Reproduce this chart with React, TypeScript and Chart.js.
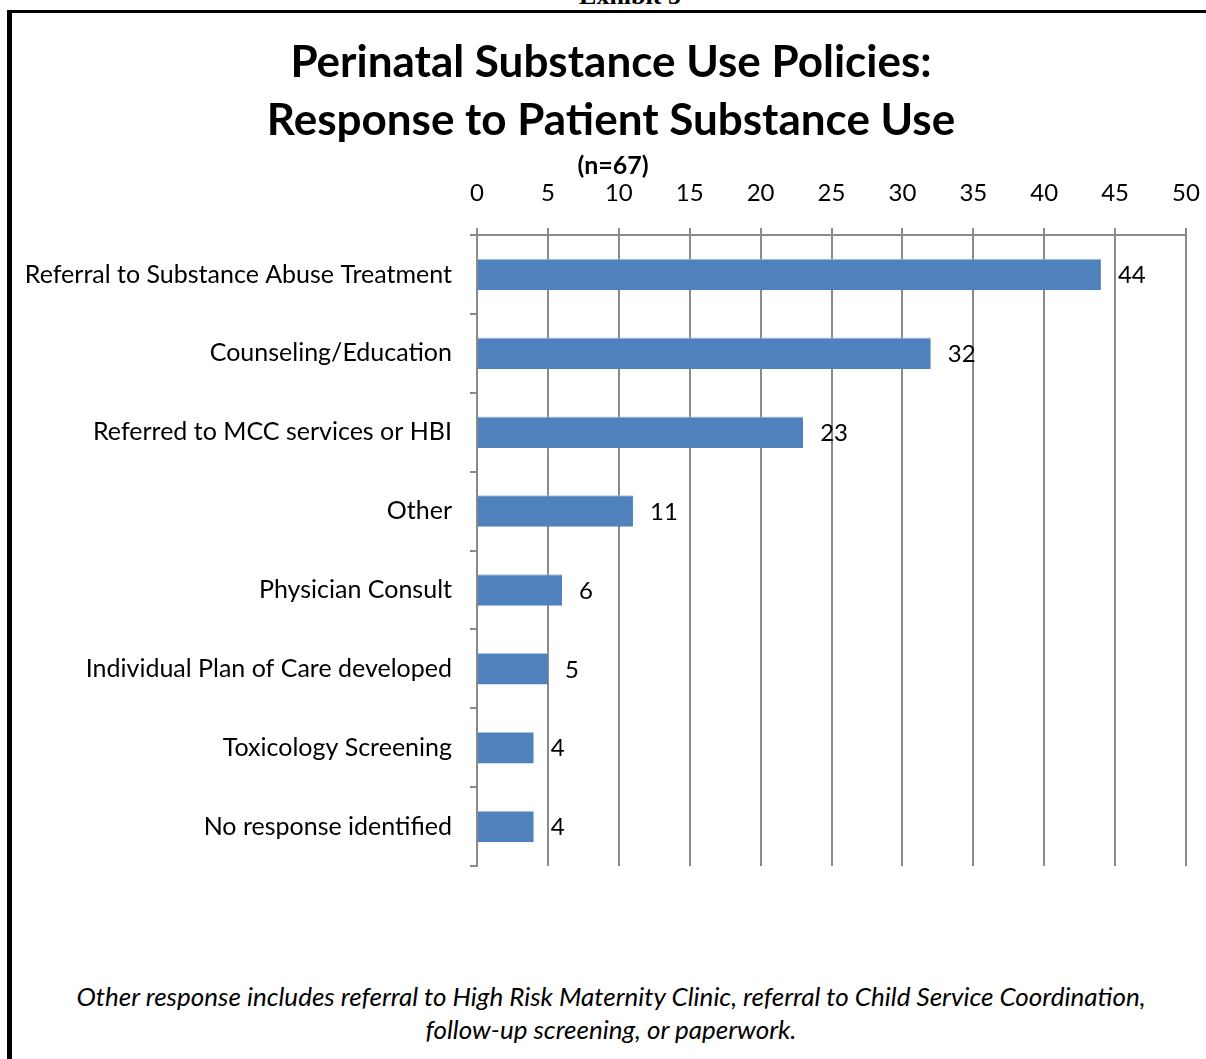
import React, { useEffect, useRef } from "react";
import { Chart, registerables } from "chart.js";

Chart.register(...registerables);

const categories = [
  "Referral to Substance Abuse Treatment",
  "Counseling/Education",
  "Referred to MCC services or HBI",
  "Other",
  "Physician Consult",
  "Individual Plan of Care developed",
  "Toxicology Screening",
  "No response identified",
];
const counts = [44, 32, 23, 11, 6, 5, 4, 4];
const axisMax = 50;
const axisStep = 5;

const titleLines = ["Perinatal Substance Use Policies:", "Response to Patient Substance Use"];
const sampleNote = "(n=67)";
const footnoteLines = [
  "Other response includes referral to High Risk Maternity Clinic, referral to Child Service Coordination,",
  "follow-up screening, or paperwork.",
];

const FONT = "Lato, 'Open Sans', sans-serif";
const BAR_BLUE = "#4f81bd";
const GRID_GREY = "#8a8a8a";

// Writes each bar's value just past its end.
const valueLabels = {
  id: "valueLabels",
  afterDatasetsDraw(chart: any) {
    const ctx = chart.ctx;
    const meta = chart.getDatasetMeta(0);
    const data = chart.data.datasets[0].data as number[];
    ctx.save();
    ctx.font = `24px ${FONT}`;
    ctx.fillStyle = "#000";
    ctx.textAlign = "left";
    ctx.textBaseline = "middle";
    meta.data.forEach((bar: any, i: number) => {
      ctx.fillText(String(data[i]), bar.x + 17, bar.y + 1);
    });
    ctx.restore();
  },
};

function ResponseChart() {
  const canvasRef = useRef<HTMLCanvasElement | null>(null);

  useEffect(() => {
    if (!canvasRef.current) return;
    const chart = new Chart(canvasRef.current, {
      type: "bar",
      data: {
        labels: categories,
        datasets: [
          {
            data: counts,
            backgroundColor: BAR_BLUE,
            borderColor: "#a9c0de",
            borderWidth: { top: 1, bottom: 0, left: 0, right: 0 },
            borderSkipped: false,
            barPercentage: 0.4,
            categoryPercentage: 1,
          },
        ],
      },
      options: {
        indexAxis: "y",
        responsive: false,
        animation: false,
        events: [],
        layout: { padding: { left: 0, right: 20, top: 0, bottom: 34 } },
        plugins: {
          legend: { display: false },
          tooltip: { enabled: false },
          title: { display: false },
        },
        scales: {
          x: {
            position: "top",
            min: 0,
            max: axisMax,
            afterFit(scale: any) {
              scale.height = 95;
              scale.paddingLeft = 0;
              scale.paddingRight = 0;
            },
            ticks: {
              stepSize: axisStep,
              color: "#000",
              font: { family: FONT, size: 24 },
              padding: 20,
            },
            grid: {
              color: GRID_GREY,
              lineWidth: 2,
              tickLength: 7,
              drawTicks: true,
            },
            border: { display: true, color: GRID_GREY, width: 2 },
          },
          y: {
            afterFit(scale: any) {
              scale.width = 477;
            },
            ticks: {
              color: "#000",
              font: { family: FONT, size: 25 },
              padding: 18,
            },
            grid: {
              offset: true,
              drawOnChartArea: false,
              color: GRID_GREY,
              lineWidth: 2,
              tickLength: 7,
            },
            border: { display: true, color: GRID_GREY, width: 2 },
          },
        },
      },
      plugins: [valueLabels],
    });
    return () => chart.destroy();
  }, []);

  return (
    <canvas
      ref={canvasRef}
      width={1206}
      height={760}
      style={{ position: "absolute", left: 0, top: 140, width: 1206, height: 760 }}
    />
  );
}

export default function App() {
  return (
    <div
      style={{
        position: "absolute",
        left: 0,
        top: 0,
        width: 1206,
        height: 1059,
        background: "#fff",
        overflow: "hidden",
      }}
    >
      <div
        style={{
          position: "absolute",
          left: 0,
          width: 1260,
          top: -17,
          textAlign: "center",
          fontFamily: "'Liberation Serif', serif",
          fontWeight: "bold",
          fontSize: 26,
          lineHeight: "26px",
        }}
      >
        Exhibit 5
      </div>
      <div
        style={{
          position: "absolute",
          left: 7,
          top: 10,
          right: 0,
          bottom: -10,
          borderLeft: "5px solid #000",
          borderTop: "3px solid #000",
        }}
      />
      <ResponseChart />
      <div
        style={{
          position: "absolute",
          left: 16,
          right: 0,
          top: 31,
          textAlign: "center",
          fontFamily: FONT,
          fontWeight: "bold",
          fontSize: 44,
          lineHeight: "58px",
          color: "#000",
        }}
      >
        {titleLines.map((l) => (
          <div key={l}>{l}</div>
        ))}
      </div>
      <div
        style={{
          position: "absolute",
          left: 20,
          right: 0,
          top: 150,
          textAlign: "center",
          fontFamily: FONT,
          fontWeight: "bold",
          fontSize: 25,
          lineHeight: "28px",
          color: "#000",
        }}
      >
        {sampleNote}
      </div>
      <div
        style={{
          position: "absolute",
          left: 16,
          right: 0,
          top: 980,
          textAlign: "center",
          fontFamily: FONT,
          fontStyle: "italic",
          fontSize: 26,
          lineHeight: "33px",
          color: "#000",
        }}
      >
        {footnoteLines.map((l) => (
          <div key={l}>{l}</div>
        ))}
      </div>
    </div>
  );
}
